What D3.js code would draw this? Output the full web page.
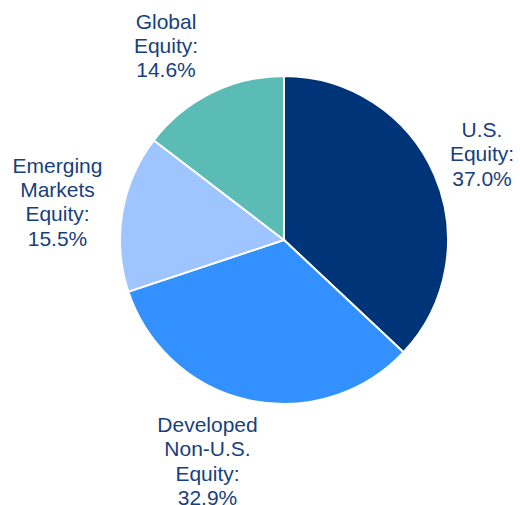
<!DOCTYPE html>
<html><head><meta charset="utf-8">
<script src="https://cdn.jsdelivr.net/npm/d3@7"></script>
<style>html,body{margin:0;padding:0;background:#fff;}</style>
</head><body>
<svg id="chart" width="520" height="505"></svg>
<script>
const categories = ["U.S. Equity", "Developed Non-U.S. Equity", "Emerging Markets Equity", "Global Equity"];
const values = [37.0, 32.9, 15.5, 14.6];
const colors = ["#003478", "#3390ff", "#9ec5ff", "#5bbbb5"];
const labelLines = [
  ["U.S.", "Equity:", "37.0%"],
  ["Developed", "Non-U.S.", "Equity:", "32.9%"],
  ["Emerging", "Markets", "Equity:", "15.5%"],
  ["Global", "Equity:", "14.6%"]
];

const svg = d3.select("#chart");
const cx = 284, cy = 240, R = 164;
const g = svg.append("g").attr("transform", `translate(${cx},${cy})`);
const pie = d3.pie().sort(null).value(d => d)(values);
const arc = d3.arc().innerRadius(0).outerRadius(R);
g.selectAll("path").data(pie).enter().append("path")
  .attr("d", arc).attr("fill", (d, i) => colors[i])
  .attr("stroke", "#fff").attr("stroke-width", 2);

// label anchor (centre x, first baseline y) in page pixels
const labelAnchor = [[482, 137], [207.5, 432], [57.5, 172.5], [166, 28.5]];
const lineH = 24.4;
labelLines.forEach((lines, i) => {
  const t = svg.append("text")
    .attr("text-anchor", "middle")
    .attr("font-family", "Liberation Sans, Arial, sans-serif")
    .attr("font-size", 21)
    .attr("fill", "#173f7d");
  lines.forEach((s, j) => {
    t.append("tspan").attr("x", labelAnchor[i][0]).attr("y", labelAnchor[i][1] + j * lineH).text(s);
  });
});
</script>
</body></html>
